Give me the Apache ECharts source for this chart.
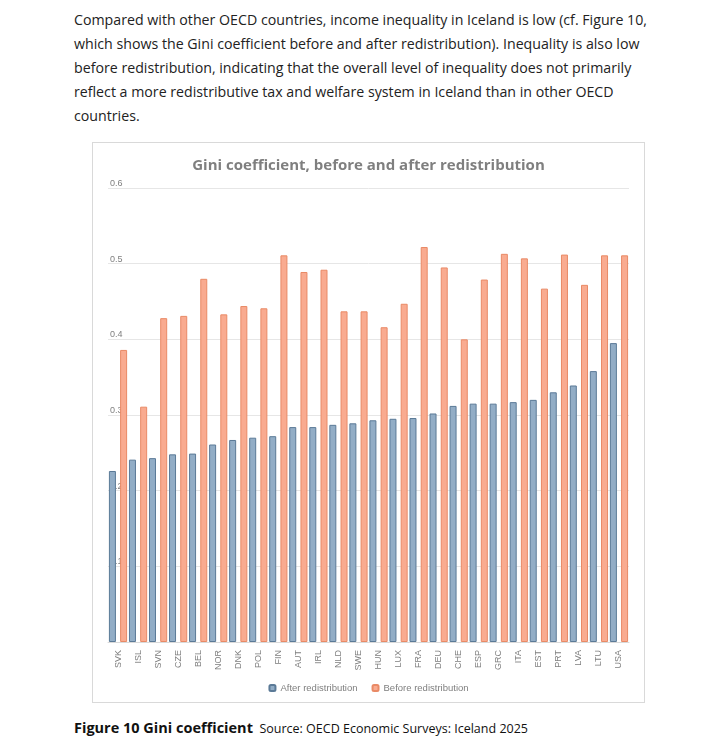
<!DOCTYPE html>
<html>
<head>
<meta charset="utf-8">
<style>
  html, body { margin: 0; width: 713px; height: 748px; background: #fff; font-family: "Open Sans", "Noto Sans", sans-serif; }
  #intro { position: absolute; left: 74px; top: 8px; width: 600px; font-size: 14.2px; line-height: 24px; color: #222; }
  #chart-panel { position: absolute; left: 92px; top: 142px; width: 553px; height: 561px; border: 1px solid #d9d9d9; box-sizing: border-box; }
  #caption { position: absolute; left: 74px; top: 718px; font-size: 12.5px; color: #111; }
  #caption b { font-size: 14.5px; }
</style>
<script src="https://cdn.jsdelivr.net/npm/echarts@6/dist/echarts.min.js"></script>
</head>
<body>
<div id="intro">Compared with other OECD countries, income inequality in Iceland is low (cf. Figure 10, which shows the Gini coefficient before and after redistribution). Inequality is also low before redistribution, indicating that the overall level of inequality does not primarily reflect a more redistributive tax and welfare system in Iceland than in other OECD countries.</div>
<div id="chart-panel"></div>
<div id="caption"><b>Figure 10 Gini coefficient</b>&nbsp; Source: OECD Economic Surveys: Iceland 2025</div>
<script>
var countries = ['SVK','ISL','SVN','CZE','BEL','NOR','DNK','POL','FIN','AUT','IRL','NLD','SWE','HUN','LUX','FRA','DEU','CHE','ESP','GRC','ITA','EST','PRT','LVA','LTU','USA'];
var afterRedist = [0.226,0.241,0.243,0.248,0.249,0.261,0.267,0.270,0.272,0.284,0.284,0.287,0.289,0.293,0.295,0.296,0.302,0.312,0.315,0.315,0.317,0.320,0.330,0.339,0.358,0.395];
var beforeRedist = [0.386,0.311,0.428,0.431,0.480,0.433,0.444,0.441,0.511,0.489,0.492,0.437,0.437,0.416,0.447,0.522,0.495,0.400,0.479,0.513,0.507,0.467,0.512,0.472,0.511,0.511];
var yTicks = [0, 0.1, 0.2, 0.3, 0.4, 0.5, 0.6];

var myChart = echarts.init(document.getElementById('chart-panel'));
myChart.setOption({
  animation: false,
  title: {
    text: 'Gini coefficient, before and after redistribution',
    left: 'center', top: 10,
    textStyle: { color: '#7f7f7f', fontSize: 15, fontWeight: 'bold', fontFamily: 'Open Sans' }
  },
  legend: {
    bottom: 4, itemWidth: 6, itemHeight: 6, itemGap: 14,
    textStyle: { color: '#7f7f7f', fontSize: 9.5 },
    data: ['After redistribution', 'Before redistribution']
  },
  grid: { left: 15, right: 15, top: 45, bottom: 60 },
  xAxis: {
    type: 'category', data: countries,
    axisLine: { lineStyle: { color: '#d9d9d9' } },
    axisTick: { show: false },
    axisLabel: { rotate: 90, color: '#7f7f7f', fontSize: 9 }
  },
  yAxis: {
    type: 'value', min: yTicks[0], max: yTicks[yTicks.length - 1], interval: 0.1,
    axisLabel: { color: '#7f7f7f', fontSize: 9, margin: -2, align: 'left', verticalAlign: 'bottom',
      formatter: function (v) { return v === 0 ? '0' : v.toFixed(1); } },
    splitLine: { lineStyle: { color: '#e6e6e6' } }
  },
  series: [
    { name: 'After redistribution', type: 'bar', data: afterRedist, barWidth: 7, barGap: '60%',
      itemStyle: { color: '#92adc6', borderColor: '#5b7a97', borderWidth: 1 } },
    { name: 'Before redistribution', type: 'bar', data: beforeRedist, barWidth: 7,
      itemStyle: { color: '#f9ab90', borderColor: '#e98a66', borderWidth: 1 } }
  ]
});
</script>
</body>
</html>
